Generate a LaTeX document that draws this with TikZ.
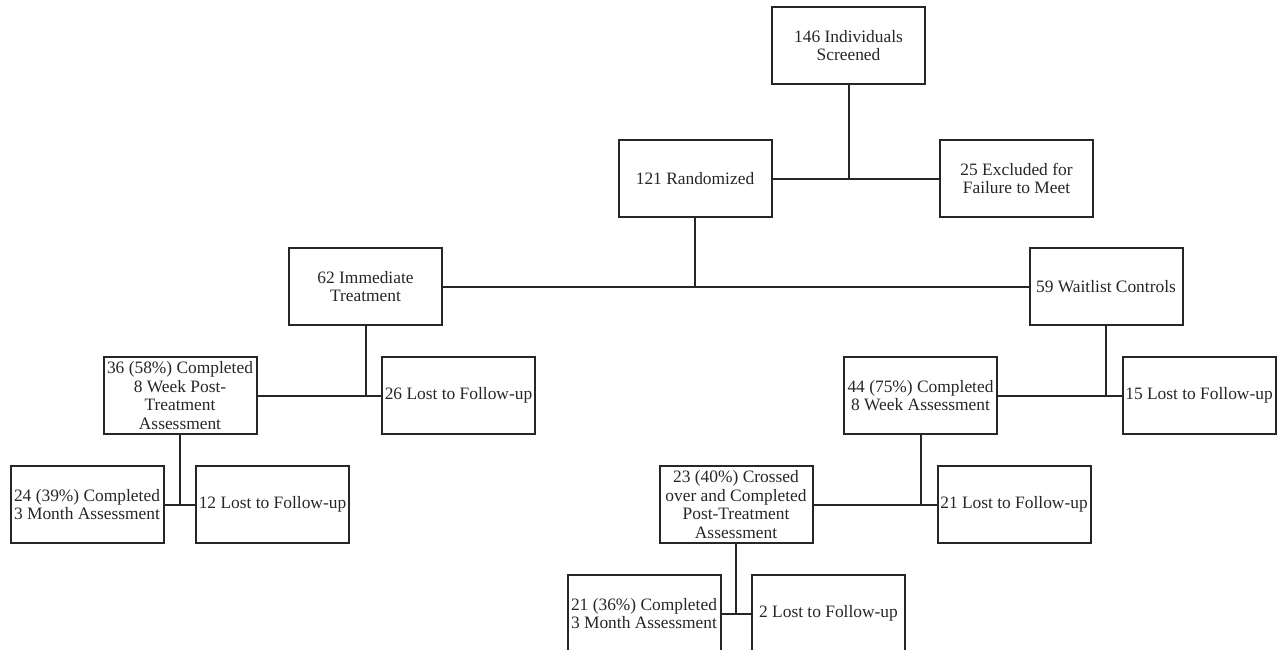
\documentclass[tikz,border=0pt]{standalone}
\usepackage{fontspec}
\setmainfont{Liberation Serif}
\begin{document}
\begin{tikzpicture}[x=1pt,y=-1pt,
  box/.style={draw=black!85, line width=2pt, minimum width=153pt, minimum height=77pt,
    inner sep=1pt, align=center, text=black!85, font=\fontsize{17.4}{18.5}\selectfont},
  link/.style={draw=black!85, line width=2pt}]
\useasboundingbox (0,0) rectangle (1279,650);
\node[box] (scr) at (848.5,45.5) {146 Individuals\\Screened};
\node[box] (rand) at (695,178.5) {121 Randomized};
\node[box] (excl) at (1016.5,178.5) {25 Excluded for\\Failure to Meet};
\node[box] (imm) at (365.5,286.5) {62 Immediate\\Treatment};
\node[box] (wait) at (1106,286.5) {59 Waitlist Controls};
\node[box] (c36) at (180,395.5) {36 (58\%) Completed\\8 Week Post-\\Treatment\\Assessment};
\node[box] (l26) at (458.5,395.5) {26 Lost to Follow-up};
\node[box] (c44) at (920.5,395.5) {44 (75\%) Completed\\8 Week Assessment};
\node[box] (l15) at (1199,395.5) {15 Lost to Follow-up};
\node[box] (c24) at (87,504.5) {24 (39\%) Completed\\3 Month Assessment};
\node[box] (l12) at (272.5,504.5) {12 Lost to Follow-up};
\node[box] (c23) at (736,504.5) {23 (40\%) Crossed\\over and Completed\\Post-Treatment\\Assessment};
\node[box] (l21) at (1014,504.5) {21 Lost to Follow-up};
\node[box] (c21) at (644,613.5) {21 (36\%) Completed\\3 Month Assessment};
\node[box] (l2) at (828.5,613.5) {2 Lost to Follow-up};
\draw[link] (scr.south) -- (scr.south |- rand.east);
\draw[link] (rand.east) -- (excl.west);
\draw[link] (rand.south) -- (rand.south |- imm.east);
\draw[link] (imm.east) -- (wait.west);
\draw[link] (imm.south) -- (imm.south |- c36.east);
\draw[link] (c36.east) -- (l26.west);
\draw[link] (wait.south) -- (wait.south |- c44.east);
\draw[link] (c44.east) -- (l15.west);
\draw[link] (c36.south) -- (c36.south |- c24.east);
\draw[link] (c24.east) -- (l12.west);
\draw[link] (c44.south) -- (c44.south |- c23.east);
\draw[link] (c23.east) -- (l21.west);
\draw[link] (c23.south) -- (c23.south |- c21.east);
\draw[link] (c21.east) -- (l2.west);
\end{tikzpicture}
\end{document}
